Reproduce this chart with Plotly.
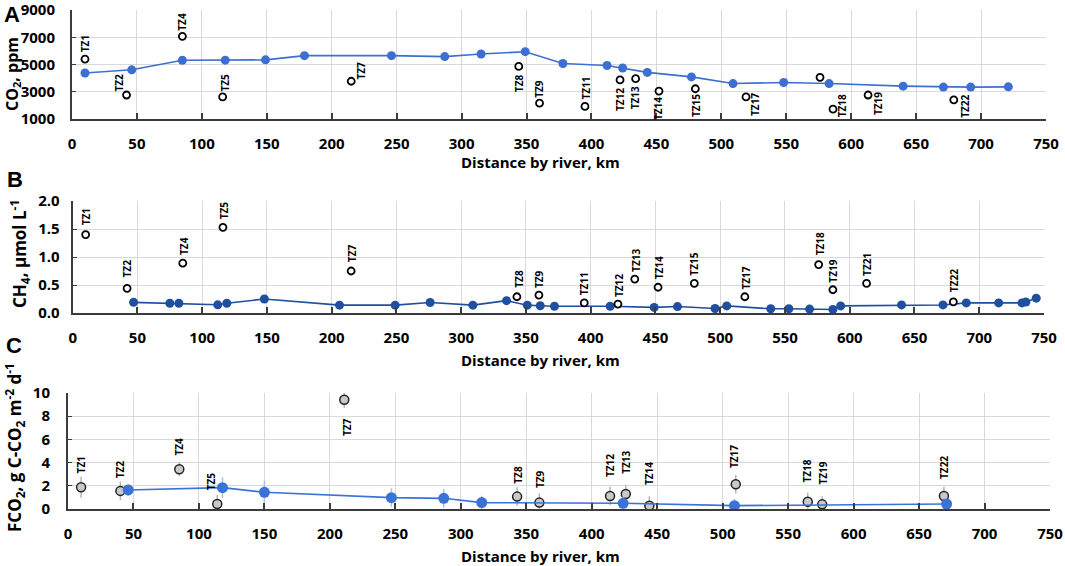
import plotly.graph_objects as go

# ---- Panel A: CO2, ppm ----
a_main_km = [10, 46, 85, 118, 149, 179, 246, 287, 315, 349, 378, 412, 424, 443, 477,
             509, 548, 583, 640, 671, 692, 721]
a_main_co2 = [4380, 4610, 5310, 5320, 5340, 5650, 5650, 5580, 5770, 5940, 5070, 4930,
              4740, 4420, 4090, 3600, 3680, 3600, 3410, 3340, 3340, 3360]
a_tz_names = ["TZ1", "TZ2", "TZ4", "TZ5", "TZ7", "TZ8", "TZ9", "TZ11", "TZ12", "TZ13",
              "TZ14", "TZ15", "TZ17", "", "TZ18", "TZ19", "TZ22"]
a_tz_km = [10, 42, 85, 116, 215, 344, 360, 395, 422, 434, 452, 480, 519, 576, 586, 613, 679]
a_tz_co2 = [5390, 2760, 7070, 2620, 3770, 4860, 2160, 1920, 3870, 3960, 3050, 3220,
            2620, 4060, 1720, 2760, 2400]

# ---- Panel B: CH4, umol/L ----
b_main_km = [47, 75, 82, 112, 119, 148, 206, 249, 276, 309, 335, 351, 361, 372, 415,
             449, 467, 496, 505, 539, 553, 569, 587, 593, 640, 672, 690, 715, 733, 736, 744]
b_main_ch4 = [0.19, 0.175, 0.175, 0.146, 0.175, 0.25, 0.14, 0.14, 0.187, 0.14, 0.22, 0.14,
              0.13, 0.12, 0.12, 0.10, 0.115, 0.08, 0.127, 0.075, 0.075, 0.07, 0.063, 0.127,
              0.144, 0.144, 0.18, 0.18, 0.18, 0.196, 0.265]
b_tz_names = ["TZ1", "TZ2", "TZ4", "TZ5", "TZ7", "TZ8", "TZ9", "TZ11", "TZ12", "TZ13",
              "TZ14", "TZ15", "TZ17", "TZ18", "TZ19", "TZ21", "TZ22"]
b_tz_km = [10, 42, 85, 116, 215, 343, 360, 395, 421, 434, 452, 480, 519, 576, 587, 613, 680]
b_tz_ch4 = [1.40, 0.44, 0.89, 1.53, 0.75, 0.29, 0.32, 0.18, 0.16, 0.605, 0.46, 0.53,
            0.29, 0.865, 0.415, 0.53, 0.20]

# ---- Panel C: FCO2, g C-CO2 m-2 d-1 ----
c_main_km = [46, 118, 150, 247, 287, 316, 424, 509, 671]
c_main_f = [1.64, 1.84, 1.44, 0.98, 0.92, 0.55, 0.49, 0.29, 0.43]
c_main_err = [0.5, 0.9, 1.0, 0.8, 0.8, 0.6, 0.6, 0.6, 0.4]
c_tz_names = ["TZ1", "TZ2", "TZ4", "TZ5", "TZ7", "TZ8", "TZ9", "TZ12", "TZ13", "TZ14",
              "TZ17", "TZ18", "TZ19", "TZ22"]
c_tz_km = [10, 40, 85, 114, 211, 343, 360, 414, 426, 444, 510, 565, 576, 669]
c_tz_f = [1.87, 1.56, 3.43, 0.43, 9.42, 1.07, 0.55, 1.12, 1.29, 0.29, 2.13, 0.63, 0.40, 1.12]
c_tz_err = [0.9, 0.8, 0.6, 0.8, 0.7, 0.8, 0.8, 0.8, 0.8, 0.8, 0.8, 0.8, 0.7, 0.8]

# label offsets in pixels (dx right, dy down) - styling only
a_lab_off = [(0, -16), (-8, -12), (0, -15), (2, -14), (10, -11), (1, 17), (0, -14),
             (1, -19), (0, 20), (-1, 19), (-1, 18), (0, 17), (9, 8), (0, 0), (9, -3),
             (10, 9), (11, 6)]
b_lab_off = [(0, -18), (0, -20), (1, -17), (1, -17), (1, -18), (2, -18), (0, -16),
             (0, -19), (1, -19), (1, -19), (1, -19), (0, -19), (1, -19), (1, -21),
             (0, -19), (1, -19), (0, -21)]
c_lab_off = [(0, -22), (0, -22), (0, -23), (-6, -23), (2, 27), (0, -22), (0, -24),
             (0, -30), (0, -32), (-1, -32), (-1, -28), (-1, -31), (1, -31), (0, -29)]

W, H = 1065, 566
FONT = "Open Sans"
GRID = "#d9d9d9"
AXIS = "#3c3c3c"


def px(v, total):
    return v / total


fig = go.Figure()

# Panel A traces
fig.add_trace(go.Scatter(x=a_main_km, y=a_main_co2, mode="lines+markers",
                         line=dict(color="#3d6fd1", width=1.6),
                         marker=dict(color="#3d6fd1", size=9),
                         xaxis="x", yaxis="y", showlegend=False))
fig.add_trace(go.Scatter(x=a_tz_km, y=a_tz_co2, mode="markers",
                         marker=dict(color="white", size=7, line=dict(color="black", width=1.8)),
                         xaxis="x", yaxis="y", showlegend=False))

# Panel B traces
fig.add_trace(go.Scatter(x=b_main_km, y=b_main_ch4, mode="lines+markers",
                         line=dict(color="#1f4f9e", width=1.6),
                         marker=dict(color="#1f4f9e", size=9),
                         xaxis="x2", yaxis="y2", showlegend=False))
fig.add_trace(go.Scatter(x=b_tz_km, y=b_tz_ch4, mode="markers",
                         marker=dict(color="white", size=7, line=dict(color="black", width=1.8)),
                         xaxis="x2", yaxis="y2", showlegend=False))

# Panel C traces
fig.add_trace(go.Scatter(x=c_tz_km, y=c_tz_f, mode="markers",
                         error_y=dict(type="data", array=c_tz_err, color="#b5b5b5",
                                      thickness=1.5, width=0),
                         marker=dict(color="#c9c9c9", size=9, line=dict(color="#222222", width=1.5)),
                         xaxis="x3", yaxis="y3", showlegend=False))
fig.add_trace(go.Scatter(x=c_main_km, y=c_main_f, mode="lines+markers",
                         error_y=dict(type="data", array=c_main_err, color="#a9c2ee",
                                      thickness=1.5, width=0),
                         line=dict(color="#3a72d8", width=1.6),
                         marker=dict(color="#3a72d8", size=11),
                         xaxis="x3", yaxis="y3", showlegend=False))

annotations = []
for names, kms, vals, offs, xr, yr in [
    (a_tz_names, a_tz_km, a_tz_co2, a_lab_off, "x", "y"),
    (b_tz_names, b_tz_km, b_tz_ch4, b_lab_off, "x2", "y2"),
    (c_tz_names, c_tz_km, c_tz_f, c_lab_off, "x3", "y3"),
]:
    for name, k, v, (dx, dy) in zip(names, kms, vals, offs):
        if not name:
            continue
        annotations.append(dict(x=k, y=v, xref=xr, yref=yr, text=name, showarrow=False,
                                textangle=-90, xshift=dx, yshift=-dy,
                                xanchor="center", yanchor="middle",
                                font=dict(family=FONT, size=10, color="black", weight="bold")))


def paper_note(text, xc, yc, size, family=FONT, angle=0):
    return dict(x=px(xc, W), y=1 - px(yc, H), xref="paper", yref="paper",
                xanchor="center", yanchor="middle", text=text, showarrow=False,
                textangle=angle,
                font=dict(family=family, size=size, color="black", weight="bold"))


# panel letters
for letter, x0, y0 in [("A", 12, 15), ("B", 15, 179), ("C", 14, 345)]:
    annotations.append(paper_note(letter, x0, y0, 22, family="Liberation Sans"))

# axis titles
for yc in [162, 360, 556]:
    annotations.append(paper_note("Distance by river, km", 540, yc, 15))

for text, xc, yc, fs in [("CO<sub>2</sub>, ppm", 12, 74, 16),
                         ("CH<sub>4</sub>, µmol L<sup>-1</sup>", 19, 254, 17),
                         ("FCO<sub>2</sub>, g C-CO<sub>2</sub> m<sup>-2</sup> d<sup>-1</sup>", 14, 448, 17)]:
    annotations.append(paper_note(text, xc, yc, fs, angle=-90))

tickfont = dict(family=FONT, size=15, color="black", weight="bold")


def xaxis_style(x0, x1, anchor):
    return dict(domain=[px(x0, W), px(x1, W)], range=[0, 750], dtick=50, anchor=anchor,
                automargin=False, ticklabeloverflow="allow",
                showgrid=True, gridcolor=GRID, gridwidth=1, zeroline=False,
                showline=True, linecolor=AXIS, linewidth=2,
                ticks="inside", ticklen=6, tickcolor=AXIS, tickwidth=1.5,
                ticklabelstandoff=10, tickfont=tickfont)


def yaxis_style(ytop, ybot, rng, tickvals, fmt, anchor, standoff):
    return dict(domain=[1 - px(ybot, H), 1 - px(ytop, H)], range=rng, tickvals=tickvals,
                tickformat=fmt, anchor=anchor, automargin=False, ticklabeloverflow="allow",
                showgrid=True, gridcolor=GRID, gridwidth=1, zeroline=False,
                showline=True, linecolor=AXIS, linewidth=2,
                ticks="inside", ticklen=4, tickcolor=AXIS,
                ticklabelstandoff=standoff, tickfont=tickfont)


fig.update_layout(
    width=W, height=H,
    margin=dict(l=0, r=0, t=0, b=0, autoexpand=False),
    paper_bgcolor="white", plot_bgcolor="white",
    xaxis=xaxis_style(72, 1046, "y"),
    yaxis=yaxis_style(10, 119, [1000, 9000], [1000, 3000, 5000, 7000, 9000], "d", "x", 12),
    xaxis2=xaxis_style(72.7, 1044, "y2"),
    yaxis2=yaxis_style(201, 313, [0, 2.0], [0, 0.5, 1.0, 1.5, 2.0], ".1f", "x2", 8),
    xaxis3=xaxis_style(68, 1050, "y3"),
    yaxis3=yaxis_style(393, 509, [0, 10], [0, 2, 4, 6, 8, 10], "d", "x3", 13),
    annotations=annotations,
)

# the page body has a default 8px margin; drop it so the figure fills the window
fig.write_html("out.html", config={"displayModeBar": False},
               post_script="document.body.style.margin='0';")
